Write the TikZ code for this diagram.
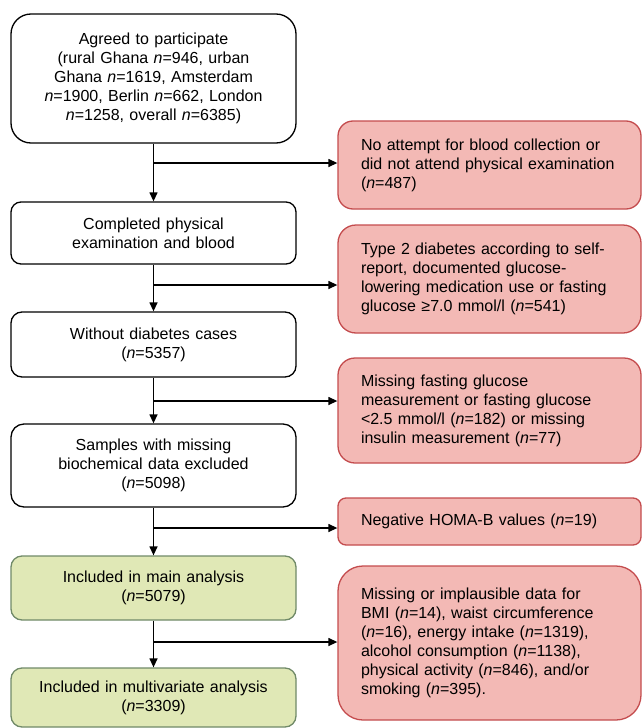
\documentclass[tikz,border=0pt]{standalone}
\usepackage{fontspec}
\setmainfont{Liberation Sans}
\usetikzlibrary{arrows.meta}
\definecolor{pinkfill}{RGB}{243,185,181}
\definecolor{pinkline}{RGB}{196,76,78}
\definecolor{greenfill}{RGB}{224,232,182}
\definecolor{greenline}{RGB}{112,138,104}
\tikzset{
  base/.style={draw, line width=1.3pt, inner sep=0pt, font=\fontsize{16}{19}\selectfont},
  leftbox/.style={base, black, fill=white, text=black, minimum width=285pt, text width=280pt, align=center},
  greenbox/.style={base, draw=greenline, fill=greenfill, text=black, minimum width=285pt, text width=280pt, align=center},
  rightbox/.style={base, draw=pinkline, fill=pinkfill, text=black, minimum width=303pt, text width=257pt, inner xsep=23pt, align=left},
  conn/.style={line width=1.3pt, black},
  arr/.style={conn, -{Triangle[length=9pt,width=8pt]}}
}
\begin{document}
\begin{tikzpicture}[x=1pt,y=-1pt]
\useasboundingbox (0,0) rectangle (643,728);
\node[leftbox, minimum height=129pt, rounded corners=20pt] (b1) at (153.5,78.5)
  {Agreed to participate\\(rural Ghana \textit{n}=946, urban\\Ghana \textit{n}=1619, Amsterdam\\\textit{n}=1900, Berlin \textit{n}=662, London\\\textit{n}=1258, overall \textit{n}=6385)};
\node[leftbox, minimum height=62pt, rounded corners=10pt] (b2) at (153.5,233)
  {Completed physical\\examination and blood};
\node[leftbox, minimum height=65pt, rounded corners=11pt] (b3) at (153.5,344.5)
  {Without diabetes cases\\(\textit{n}=5357)};
\node[leftbox, minimum height=83pt, rounded corners=13pt] (b4) at (153.5,465.5)
  {Samples with missing\\biochemical data excluded\\(\textit{n}=5098)};
\node[greenbox, minimum height=64pt, rounded corners=11pt] (b5) at (153.5,588)
  {Included in main analysis\\(\textit{n}=5079)};
\node[greenbox, minimum height=59pt, rounded corners=11pt] (b6) at (153.5,697.5)
  {Included in multivariate analysis\\(\textit{n}=3309)};

\node[rightbox, minimum height=88pt, rounded corners=15pt] (r1) at (489.5,165)
  {No attempt for blood collection or\\did not attend physical examination\\(\textit{n}=487)};
\node[rightbox, minimum height=108pt, rounded corners=18pt] (r2) at (489.5,279)
  {Type 2 diabetes according to self-\\report, documented glucose-\\lowering medication use or fasting\\glucose ≥7.0 mmol/l (\textit{n}=541)};
\node[rightbox, minimum height=105pt, rounded corners=17pt] (r3) at (489.5,410.5)
  {Missing fasting glucose\\measurement or fasting glucose\\<2.5 mmol/l (\textit{n}=182) or missing\\insulin measurement (\textit{n}=77)};
\node[rightbox, minimum height=47pt, rounded corners=8pt] (r4) at (489.5,521.5)
  {Negative HOMA-B values (\textit{n}=19)};
\node[rightbox, minimum height=154pt, rounded corners=25pt] (r5) at (489.5,643)
  {Missing or implausible data for\\BMI (\textit{n}=14), waist circumference\\(\textit{n}=16), energy intake (\textit{n}=1319),\\alcohol consumption (\textit{n}=1138),\\physical activity (\textit{n}=846), and/or\\smoking (\textit{n}=395).};

\coordinate (c1) at (153.5,163);
\coordinate (c2) at (153.5,285);
\coordinate (c3) at (153.5,401);
\coordinate (c4) at (153.5,528);
\coordinate (c5) at (153.5,642);

\draw[arr] (b1.south) -- (b2.north);
\draw[arr] (b2.south) -- (b3.north);
\draw[arr] (b3.south) -- (b4.north);
\draw[arr] (b4.south) -- (b5.north);
\draw[arr] (b5.south) -- (b6.north);

\draw[arr] (c1) -- (c1 -| r1.west);
\draw[arr] (c2) -- (c2 -| r2.west);
\draw[arr] (c3) -- (c3 -| r3.west);
\draw[arr] (c4) -- (c4 -| r4.west);
\draw[arr] (c5) -- (c5 -| r5.west);
\end{tikzpicture}
\end{document}
